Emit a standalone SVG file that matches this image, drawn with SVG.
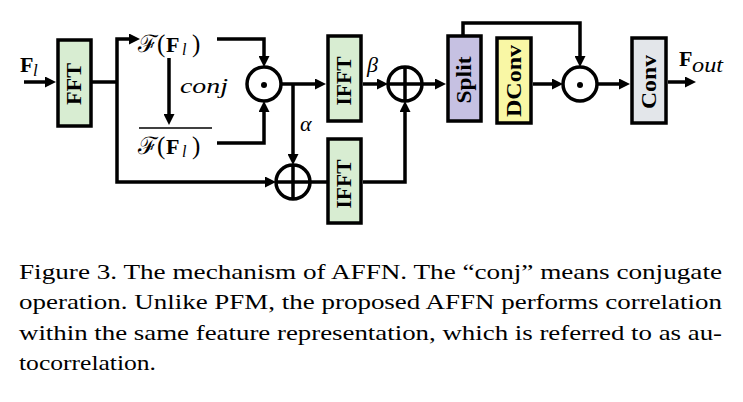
<svg xmlns="http://www.w3.org/2000/svg" width="743" height="402" viewBox="0 0 743 402">
<style>
.cn{fill:none;stroke:#000;stroke-width:3.5;stroke-linejoin:miter}
.bx{stroke:#000;stroke-width:3.5}
.op{fill:#fff;stroke:#000;stroke-width:3.5}
</style>
<defs>
<marker id="ah" viewBox="0 0 11 11" markerWidth="11" markerHeight="11" refX="2" refY="5.5" orient="auto-start-reverse" markerUnits="userSpaceOnUse">
<path d="M0,0 L11,5.5 L0,11 z" fill="#000"/>
</marker>
</defs>
<rect width="743" height="402" fill="#fff"/>

<g id="connectors">
<path class="cn" d="M24,82 H47" marker-end="url(#ah)"/>
<path class="cn" d="M92,82 H117"/>
<path class="cn" d="M131,39 H117 V182 H267" marker-start="url(#ah)" marker-end="url(#ah)"/>
<path class="cn" d="M169,58 V116" marker-end="url(#ah)"/>
<path class="cn" d="M217,39 H264 V58" marker-end="url(#ah)"/>
<path class="cn" d="M217,143 H264 V110" marker-end="url(#ah)"/>
<path class="cn" d="M281,84 H317" marker-end="url(#ah)"/>
<path class="cn" d="M293,84 V156" marker-end="url(#ah)"/>
<path class="cn" d="M310,182 H328"/>
<path class="cn" d="M363,84 H379" marker-end="url(#ah)"/>
<path class="cn" d="M363,182 H405 V110" marker-end="url(#ah)"/>
<path class="cn" d="M422,84 H437" marker-end="url(#ah)"/>
<path class="cn" d="M463,36 V23 H580 V58" marker-end="url(#ah)"/>
<path class="cn" d="M533,84 H554" marker-end="url(#ah)"/>
<path class="cn" d="M597,84 H621" marker-end="url(#ah)"/>
<path class="cn" d="M668,82 H687" marker-end="url(#ah)"/>
</g>

<g id="input-label" font-family="Liberation Serif">
<text x="20" y="72" font-size="22" font-weight="bold">F</text>
<text x="33" y="76" font-size="17" font-style="italic">l</text>
</g>

<g id="fft">
<rect class="bx" x="58" y="40" width="33" height="86" fill="#d8edd2"/>
<text font-family="Liberation Serif" font-weight="bold" font-size="22" text-anchor="middle" textLength="42" lengthAdjust="spacingAndGlyphs" transform="translate(81,84) rotate(-90)">FFT</text>
</g>

<g id="spectrum" font-family="Liberation Serif">
<text y="52"><tspan font-family="DejaVu Serif" x="138" font-size="24">ℱ</tspan><tspan x="157" font-size="25">(</tspan><tspan x="166" font-size="22" font-weight="bold">F</tspan><tspan font-style="italic" x="182" y="55" font-size="16">l</tspan><tspan x="192" y="52" font-size="25">)</tspan></text>
</g>

<g id="conj-label">
<text font-family="Liberation Serif" font-style="italic" x="180" y="93" font-size="22" textLength="48" lengthAdjust="spacingAndGlyphs">conj</text>
</g>

<g id="spectrum-conj" font-family="Liberation Serif">
<line x1="139" y1="128" x2="212" y2="128" stroke="#000" stroke-width="1.5"/>
<text y="154"><tspan font-family="DejaVu Serif" x="138" font-size="24">ℱ</tspan><tspan x="157" font-size="25">(</tspan><tspan x="166" font-size="22" font-weight="bold">F</tspan><tspan font-style="italic" x="182" y="157" font-size="16">l</tspan><tspan x="192" y="154" font-size="25">)</tspan></text>
</g>

<g id="mul1">
<circle class="op" cx="264" cy="84" r="17"/>
<circle cx="264" cy="85" r="3" fill="#000"/>
</g>

<g id="alpha">
<text font-family="Liberation Serif" font-style="italic" x="300" y="131" font-size="22">α</text>
</g>

<g id="add1">
<circle class="op" cx="293" cy="182" r="17"/>
<path class="cn" d="M276,182 H310 M293,165 V199"/>
</g>

<g id="ifft1">
<rect class="bx" x="328" y="36" width="33" height="85" fill="#d8edd2"/>
<text font-family="Liberation Serif" font-weight="bold" font-size="22" text-anchor="middle" textLength="49" lengthAdjust="spacingAndGlyphs" transform="translate(351,81) rotate(-90)">IFFT</text>
</g>

<g id="ifft2">
<rect class="bx" x="328" y="139" width="33" height="84" fill="#d8edd2"/>
<text font-family="Liberation Serif" font-weight="bold" font-size="22" text-anchor="middle" textLength="49" lengthAdjust="spacingAndGlyphs" transform="translate(351,184) rotate(-90)">IFFT</text>
</g>

<g id="beta">
<text font-family="Liberation Serif" font-style="italic" x="367" y="72" font-size="22">β</text>
</g>

<g id="add2">
<circle class="op" cx="405" cy="84" r="17"/>
<path class="cn" d="M388,84 H422 M405,67 V101"/>
</g>

<g id="split">
<rect class="bx" x="448" y="36" width="33" height="85" fill="#c6c1e2"/>
<text font-family="Liberation Serif" font-weight="bold" font-size="22" text-anchor="middle" textLength="47" lengthAdjust="spacingAndGlyphs" transform="translate(471,80) rotate(-90)">Split</text>
</g>

<g id="dconv">
<rect class="bx" x="497" y="38" width="34" height="85" fill="#f9f7a5"/>
<text font-family="Liberation Serif" font-weight="bold" font-size="22" text-anchor="middle" textLength="72" lengthAdjust="spacingAndGlyphs" transform="translate(521,81) rotate(-90)">DConv</text>
</g>

<g id="mul2">
<circle class="op" cx="580" cy="84" r="17"/>
<circle cx="580" cy="85" r="3" fill="#000"/>
</g>

<g id="conv">
<rect class="bx" x="632" y="38" width="34" height="85" fill="#e3e6ea"/>
<text font-family="Liberation Serif" font-weight="bold" font-size="22" text-anchor="middle" textLength="54" lengthAdjust="spacingAndGlyphs" transform="translate(656,82) rotate(-90)">Conv</text>
</g>

<g id="output-label" font-family="Liberation Serif">
<text x="679" y="66" font-size="22" font-weight="bold">F</text>
<text font-style="italic" x="692" y="72" font-size="20" textLength="31" lengthAdjust="spacingAndGlyphs">out</text>
</g>

<g id="caption" font-family="Liberation Serif" font-size="22">
<text x="19" y="279" textLength="703" lengthAdjust="spacingAndGlyphs">Figure 3.  The mechanism of AFFN. The “conj” means conjugate</text>
<text x="19" y="309" textLength="703" lengthAdjust="spacingAndGlyphs">operation. Unlike PFM, the proposed AFFN performs correlation</text>
<text x="19" y="340" textLength="703" lengthAdjust="spacingAndGlyphs">within the same feature representation, which is referred to as au-</text>
<text x="19" y="370" textLength="137" lengthAdjust="spacingAndGlyphs">tocorrelation.</text>
</g>
</svg>
